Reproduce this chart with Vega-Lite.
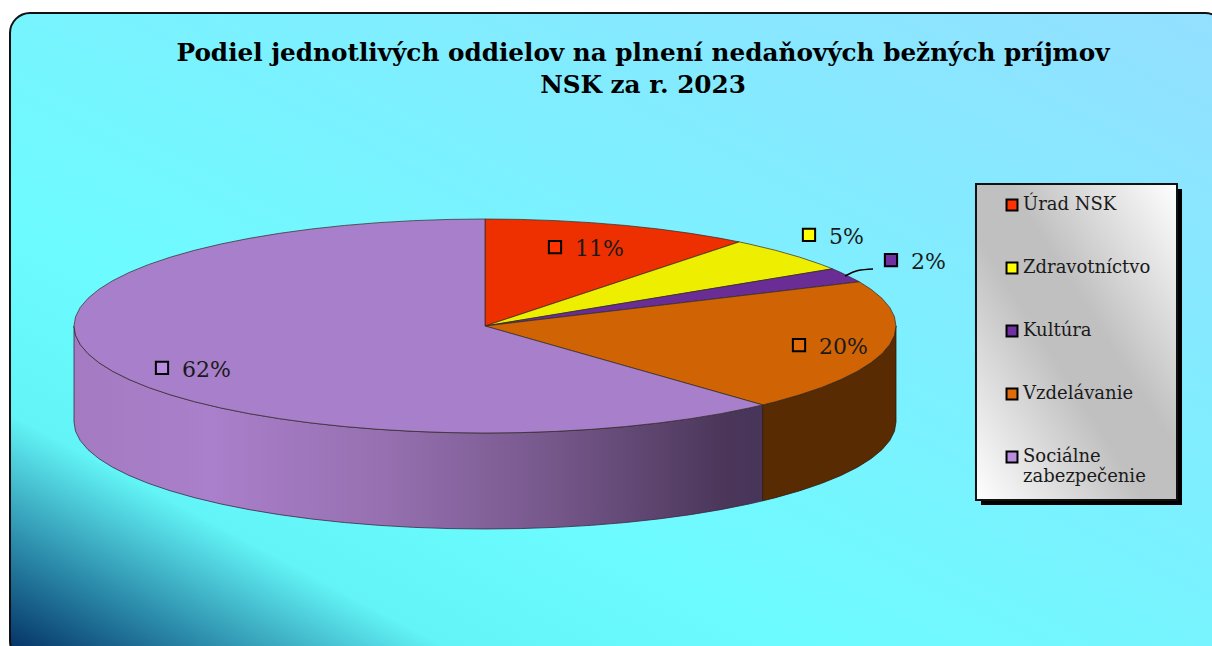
{
"$schema":"https://vega.github.io/schema/vega-lite/v6.json",
"width":1212,"height":646,"padding":0,"autosize":"none","background":"white",
"title":{"text":["Podiel jednotlivých oddielov na plnení nedaňových bežných príjmov","NSK za r. 2023"],"font":"DejaVu Serif","fontSize":24.7,"fontWeight":"bold","color":"#000000","anchor":"middle","dx":37,"dy":98,"lineHeight":32,"offset":0},
"config":{"view":{"stroke":null}},
"resolve":{"scale":{"fill":"independent"}},
"layer":[
{"data":{"values":[{"part":"frame"}]},
 "mark":{"type":"rect","cornerRadius":20,"stroke":"#111111","strokeWidth":2,"fill":{"gradient":"linear","x1":0,"y1":1,"x2":1,"y2":0,"stops":[{"offset":0,"color":"#00295f"},{"offset":0.09,"color":"#2a88a8"},{"offset":0.19,"color":"#62f4f6"},{"offset":0.33,"color":"#6cfcff"},{"offset":0.6,"color":"#7df0ff"},{"offset":1,"color":"#94dfff"}]}},
 "encoding":{"x":{"datum":-1.1557,"type":"quantitative","scale":{"domain":[-1.18005,1.76886],"nice":false,"zero":false},"axis":null},"x2":{"datum":1.8005},
  "y":{"datum":2.9252,"type":"quantitative","scale":{"domain":[-2.99065,3.04673],"nice":false,"zero":false},"axis":null},"y2":{"datum":-3.1308}}},
{"data":{"values":[{"part":"shadow"}]},
 "mark":{"type":"rect","fill":"#000000"},
 "encoding":{"x":{"datum":1.2068,"type":"quantitative"},"x2":{"datum":1.6959},"y":{"datum":1.2804,"type":"quantitative"},"y2":{"datum":-1.6729}}},
{"data":{"values":[{"part":"legend box"}]},
 "mark":{"type":"rect","stroke":"#111111","strokeWidth":2,"fill":{"gradient":"linear","x1":1,"y1":0,"x2":0,"y2":1,"stops":[{"offset":0,"color":"#ffffff"},{"offset":0.42,"color":"#c0c0c0"},{"offset":0.58,"color":"#c0c0c0"},{"offset":1,"color":"#ffffff"}]}},
 "encoding":{"x":{"datum":1.1946,"type":"quantitative"},"x2":{"datum":1.6837},"y":{"datum":1.3271,"type":"quantitative"},"y2":{"datum":-1.6262}}},
{"data":{"values":[
{"x":0.6756,"y":-0.7373,"y2":-1.6343},{"x":0.6428,"y":-0.766,"y2":-1.663},{"x":0.5736,"y":-0.8192,"y2":-1.7162},{"x":0.5,"y":-0.866,"y2":-1.763},{"x":0.4226,"y":-0.9063,"y2":-1.8033},{"x":0.342,"y":-0.9397,"y2":-1.8367},{"x":0.2588,"y":-0.9659,"y2":-1.8629},{"x":0.1736,"y":-0.9848,"y2":-1.8818},{"x":0.0872,"y":-0.9962,"y2":-1.8932},{"x":0,"y":-1,"y2":-1.897},{"x":-0.0872,"y":-0.9962,"y2":-1.8932},{"x":-0.1736,"y":-0.9848,"y2":-1.8818},{"x":-0.2588,"y":-0.9659,"y2":-1.8629},{"x":-0.342,"y":-0.9397,"y2":-1.8367},{"x":-0.4226,"y":-0.9063,"y2":-1.8033},{"x":-0.5,"y":-0.866,"y2":-1.763},{"x":-0.5736,"y":-0.8192,"y2":-1.7162},{"x":-0.6428,"y":-0.766,"y2":-1.663},{"x":-0.7071,"y":-0.7071,"y2":-1.6041},{"x":-0.766,"y":-0.6428,"y2":-1.5398},{"x":-0.8192,"y":-0.5736,"y2":-1.4706},{"x":-0.866,"y":-0.5,"y2":-1.397},{"x":-0.9063,"y":-0.4226,"y2":-1.3196},{"x":-0.9397,"y":-0.342,"y2":-1.239},{"x":-0.9659,"y":-0.2588,"y2":-1.1558},{"x":-0.9848,"y":-0.1736,"y2":-1.0706},{"x":-0.9962,"y":-0.0872,"y2":-0.9842},{"x":-1,"y":0,"y2":-0.897}]},
 "mark":{"type":"area","orient":"vertical","stroke":"#3a2a45","strokeWidth":0.8,"fill":{"gradient":"linear","x1":0,"y1":0,"x2":1,"y2":0,"stops":[{"offset":0,"color":"#a47bc2"},{"offset":0.2,"color":"#aa7fcb"},{"offset":0.45,"color":"#9670b0"},{"offset":0.7,"color":"#75578a"},{"offset":0.95,"color":"#4a3659"},{"offset":1,"color":"#47355a"}]}},
 "encoding":{"x":{"field":"x","type":"quantitative"},"y":{"field":"y","type":"quantitative"},"y2":{"field":"y2"}}},
{"data":{"values":[
{"x":1,"y":0,"y2":-0.897},{"x":0.9962,"y":-0.0872,"y2":-0.9842},{"x":0.9848,"y":-0.1736,"y2":-1.0706},{"x":0.9659,"y":-0.2588,"y2":-1.1558},{"x":0.9397,"y":-0.342,"y2":-1.239},{"x":0.9063,"y":-0.4226,"y2":-1.3196},{"x":0.866,"y":-0.5,"y2":-1.397},{"x":0.8192,"y":-0.5736,"y2":-1.4706},{"x":0.766,"y":-0.6428,"y2":-1.5398},{"x":0.7071,"y":-0.7071,"y2":-1.6041},{"x":0.6756,"y":-0.7373,"y2":-1.6343}]},
 "mark":{"type":"area","orient":"vertical","stroke":"#2e1a0a","strokeWidth":0.8,"fill":"#582b03"},
 "encoding":{"x":{"field":"x","type":"quantitative"},"y":{"field":"y","type":"quantitative"},"y2":{"field":"y2"}}},
{"data":{"values":[
{"slice":"Úrad NSK","i":0,"x":0,"y":0},{"slice":"Úrad NSK","i":1,"x":0,"y":1},{"slice":"Úrad NSK","i":2,"x":0.0872,"y":0.9962},{"slice":"Úrad NSK","i":3,"x":0.1736,"y":0.9848},{"slice":"Úrad NSK","i":4,"x":0.2588,"y":0.9659},{"slice":"Úrad NSK","i":5,"x":0.342,"y":0.9397},{"slice":"Úrad NSK","i":6,"x":0.4226,"y":0.9063},{"slice":"Úrad NSK","i":7,"x":0.5,"y":0.866},{"slice":"Úrad NSK","i":8,"x":0.5736,"y":0.8192},{"slice":"Úrad NSK","i":9,"x":0.6184,"y":0.7859},
{"slice":"Zdravotníctvo","i":0,"x":0,"y":0},{"slice":"Zdravotníctvo","i":1,"x":0.6184,"y":0.7859},{"slice":"Zdravotníctvo","i":2,"x":0.6428,"y":0.766},{"slice":"Zdravotníctvo","i":3,"x":0.7071,"y":0.7071},{"slice":"Zdravotníctvo","i":4,"x":0.766,"y":0.6428},{"slice":"Zdravotníctvo","i":5,"x":0.8192,"y":0.5736},{"slice":"Zdravotníctvo","i":6,"x":0.8453,"y":0.5344},
{"slice":"Kultúra","i":0,"x":0,"y":0},{"slice":"Kultúra","i":1,"x":0.8453,"y":0.5344},{"slice":"Kultúra","i":2,"x":0.866,"y":0.5},{"slice":"Kultúra","i":3,"x":0.9063,"y":0.4226},{"slice":"Kultúra","i":4,"x":0.9107,"y":0.4131},
{"slice":"Vzdelávanie","i":0,"x":0,"y":0},{"slice":"Vzdelávanie","i":1,"x":0.9107,"y":0.4131},{"slice":"Vzdelávanie","i":2,"x":0.9397,"y":0.342},{"slice":"Vzdelávanie","i":3,"x":0.9659,"y":0.2588},{"slice":"Vzdelávanie","i":4,"x":0.9848,"y":0.1736},{"slice":"Vzdelávanie","i":5,"x":0.9962,"y":0.0872},{"slice":"Vzdelávanie","i":6,"x":1,"y":0},{"slice":"Vzdelávanie","i":7,"x":0.9962,"y":-0.0872},{"slice":"Vzdelávanie","i":8,"x":0.9848,"y":-0.1736},{"slice":"Vzdelávanie","i":9,"x":0.9659,"y":-0.2588},{"slice":"Vzdelávanie","i":10,"x":0.9397,"y":-0.342},{"slice":"Vzdelávanie","i":11,"x":0.9063,"y":-0.4226},{"slice":"Vzdelávanie","i":12,"x":0.866,"y":-0.5},{"slice":"Vzdelávanie","i":13,"x":0.8192,"y":-0.5736},{"slice":"Vzdelávanie","i":14,"x":0.766,"y":-0.6428},{"slice":"Vzdelávanie","i":15,"x":0.7071,"y":-0.7071},{"slice":"Vzdelávanie","i":16,"x":0.6756,"y":-0.7373},
{"slice":"Sociálne zabezpečenie","i":0,"x":0,"y":0},{"slice":"Sociálne zabezpečenie","i":1,"x":0.6756,"y":-0.7373},{"slice":"Sociálne zabezpečenie","i":2,"x":0.6428,"y":-0.766},{"slice":"Sociálne zabezpečenie","i":3,"x":0.5736,"y":-0.8192},{"slice":"Sociálne zabezpečenie","i":4,"x":0.5,"y":-0.866},{"slice":"Sociálne zabezpečenie","i":5,"x":0.4226,"y":-0.9063},{"slice":"Sociálne zabezpečenie","i":6,"x":0.342,"y":-0.9397},{"slice":"Sociálne zabezpečenie","i":7,"x":0.2588,"y":-0.9659},{"slice":"Sociálne zabezpečenie","i":8,"x":0.1736,"y":-0.9848},{"slice":"Sociálne zabezpečenie","i":9,"x":0.0872,"y":-0.9962},{"slice":"Sociálne zabezpečenie","i":10,"x":0,"y":-1},{"slice":"Sociálne zabezpečenie","i":11,"x":-0.0872,"y":-0.9962},{"slice":"Sociálne zabezpečenie","i":12,"x":-0.1736,"y":-0.9848},{"slice":"Sociálne zabezpečenie","i":13,"x":-0.2588,"y":-0.9659},{"slice":"Sociálne zabezpečenie","i":14,"x":-0.342,"y":-0.9397},{"slice":"Sociálne zabezpečenie","i":15,"x":-0.4226,"y":-0.9063},{"slice":"Sociálne zabezpečenie","i":16,"x":-0.5,"y":-0.866},{"slice":"Sociálne zabezpečenie","i":17,"x":-0.5736,"y":-0.8192},{"slice":"Sociálne zabezpečenie","i":18,"x":-0.6428,"y":-0.766},{"slice":"Sociálne zabezpečenie","i":19,"x":-0.7071,"y":-0.7071},{"slice":"Sociálne zabezpečenie","i":20,"x":-0.766,"y":-0.6428},{"slice":"Sociálne zabezpečenie","i":21,"x":-0.8192,"y":-0.5736},{"slice":"Sociálne zabezpečenie","i":22,"x":-0.866,"y":-0.5},{"slice":"Sociálne zabezpečenie","i":23,"x":-0.9063,"y":-0.4226},{"slice":"Sociálne zabezpečenie","i":24,"x":-0.9397,"y":-0.342},{"slice":"Sociálne zabezpečenie","i":25,"x":-0.9659,"y":-0.2588},{"slice":"Sociálne zabezpečenie","i":26,"x":-0.9848,"y":-0.1736},{"slice":"Sociálne zabezpečenie","i":27,"x":-0.9962,"y":-0.0872},{"slice":"Sociálne zabezpečenie","i":28,"x":-1,"y":0},{"slice":"Sociálne zabezpečenie","i":29,"x":-0.9962,"y":0.0872},{"slice":"Sociálne zabezpečenie","i":30,"x":-0.9848,"y":0.1736},{"slice":"Sociálne zabezpečenie","i":31,"x":-0.9659,"y":0.2588},{"slice":"Sociálne zabezpečenie","i":32,"x":-0.9397,"y":0.342},{"slice":"Sociálne zabezpečenie","i":33,"x":-0.9063,"y":0.4226},{"slice":"Sociálne zabezpečenie","i":34,"x":-0.866,"y":0.5},{"slice":"Sociálne zabezpečenie","i":35,"x":-0.8192,"y":0.5736},{"slice":"Sociálne zabezpečenie","i":36,"x":-0.766,"y":0.6428},{"slice":"Sociálne zabezpečenie","i":37,"x":-0.7071,"y":0.7071},{"slice":"Sociálne zabezpečenie","i":38,"x":-0.6428,"y":0.766},{"slice":"Sociálne zabezpečenie","i":39,"x":-0.5736,"y":0.8192},{"slice":"Sociálne zabezpečenie","i":40,"x":-0.5,"y":0.866},{"slice":"Sociálne zabezpečenie","i":41,"x":-0.4226,"y":0.9063},{"slice":"Sociálne zabezpečenie","i":42,"x":-0.342,"y":0.9397},{"slice":"Sociálne zabezpečenie","i":43,"x":-0.2588,"y":0.9659},{"slice":"Sociálne zabezpečenie","i":44,"x":-0.1736,"y":0.9848},{"slice":"Sociálne zabezpečenie","i":45,"x":-0.0872,"y":0.9962},{"slice":"Sociálne zabezpečenie","i":46,"x":0,"y":1}]},
 "mark":{"type":"line","interpolate":"linear-closed","stroke":"#33261f","strokeWidth":0.7,"strokeJoin":"round"},
 "encoding":{"x":{"field":"x","type":"quantitative"},"y":{"field":"y","type":"quantitative"},"order":{"field":"i","type":"quantitative"},"detail":{"field":"slice"},
  "fill":{"field":"slice","type":"nominal","legend":null,"scale":{"domain":["Úrad NSK","Zdravotníctvo","Kultúra","Vzdelávanie","Sociálne zabezpečenie"],"range":["#ee3000","#eeee00","#6a2d96","#d06405","#a87fca"]}}}},
{"data":{"values":[{"x":0.876,"y":0.467},{"x":0.9075,"y":0.519},{"x":0.944,"y":0.533}]},
 "mark":{"type":"line","interpolate":"monotone","stroke":"#000000","strokeWidth":1.5},
 "encoding":{"x":{"field":"x","type":"quantitative"},"y":{"field":"y","type":"quantitative"}}},
{"data":{"name":"labels","values":[
{"slice":"Úrad NSK","share":11,"label":"11%","x":0.1703,"y":0.7383},
{"slice":"Zdravotníctvo","share":5,"label":"5%","x":0.7883,"y":0.8505},
{"slice":"Kultúra","share":2,"label":"2%","x":0.9878,"y":0.6168},
{"slice":"Vzdelávanie","share":20,"label":"20%","x":0.764,"y":-0.1776},
{"slice":"Sociálne zabezpečenie","share":62,"label":"62%","x":-0.7859,"y":-0.3925}]},
 "mark":{"type":"point","shape":"square","filled":true,"size":150,"stroke":"#000000","strokeWidth":2,"opacity":1},
 "encoding":{"x":{"field":"x","type":"quantitative"},"y":{"field":"y","type":"quantitative"},
  "fill":{"field":"slice","type":"nominal","scale":{"domain":["Úrad NSK","Zdravotníctvo","Kultúra","Vzdelávanie","Sociálne zabezpečenie"],"range":["#ff3300","#ffff00","#7030a0","#e36c0a","#b98ee0"]},
   "legend":{"title":null,"orient":"none","legendX":1003,"legendY":196,"padding":0,"symbolType":"square","symbolSize":120,"symbolStrokeColor":"#000000","symbolStrokeWidth":2,"symbolOpacity":1,"labelFont":"DejaVu Serif","labelFontSize":18,"labelColor":"#1a1a1a","labelLimit":180,"labelOffset":2,"rowPadding":43,"labelBaseline":"middle","labelExpr":"datum.label === 'Sociálne zabezpečenie' ? ['Sociálne','zabezpečenie'] : datum.label"}}}},
{"data":{"name":"labels"},
 "mark":{"type":"text","align":"left","baseline":"middle","dx":20,"dy":2,"font":"DejaVu Serif","fontSize":22,"color":"#1a1a1a"},
 "encoding":{"x":{"field":"x","type":"quantitative"},"y":{"field":"y","type":"quantitative"},"text":{"field":"label"}}}
]}
